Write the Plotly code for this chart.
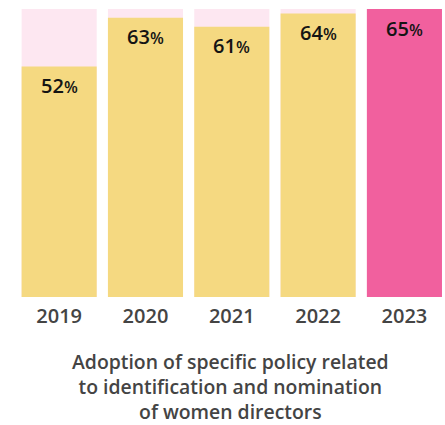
import plotly.graph_objects as go

years = ["2019", "2020", "2021", "2022", "2023"]
values = [52, 63, 61, 64, 65]
max_value = 65

yellow = "#F5D981"
hot_pink = "#F1609E"
light_pink = "#FDE7F1"
bar_colors = [yellow, yellow, yellow, yellow, hot_pink]

fig = go.Figure()
fig.add_trace(go.Bar(x=years, y=[max_value] * len(years), marker_color=light_pink,
                     marker_line_width=0, width=0.87, hoverinfo="skip"))
fig.add_trace(go.Bar(x=years, y=values, marker_color=bar_colors,
                     marker_line_width=0, width=0.87))

for i, v in enumerate(values):
    fig.add_annotation(x=i, y=v, xref="x", yref="y", yshift=-19, showarrow=False,
                       text=f"{v}<span style='font-size:16px'>%</span>",
                       font=dict(family="Open Sans", size=20, color="#141414", weight=600),
                       yanchor="middle")

fig.add_annotation(xref="paper", yref="paper", x=0.5, y=-0.17, yanchor="top",
                   showarrow=False, align="center",
                   text="Adoption of specific policy related<br>to identification and nomination<br>of women directors",
                   font=dict(family="Open Sans", size=19.4, color="#444444", weight=600))

fig.update_layout(
    width=445, height=425,
    margin=dict(l=16, r=0, t=9, b=128),
    barmode="overlay",
    showlegend=False,
    plot_bgcolor="white", paper_bgcolor="white",
    xaxis=dict(type="category", range=[-0.5, 4.47], showgrid=False, zeroline=False,
               showline=False, ticks="", ticklabelstandoff=5,
               tickfont=dict(family="Open Sans", size=20, color="#444444", weight=600)),
    yaxis=dict(range=[0, max_value], visible=False, showgrid=False, zeroline=False),
)

fig.write_html("out.html", config={"displayModeBar": False},
               post_script="document.body.style.margin='0';document.body.style.overflow='hidden';")
